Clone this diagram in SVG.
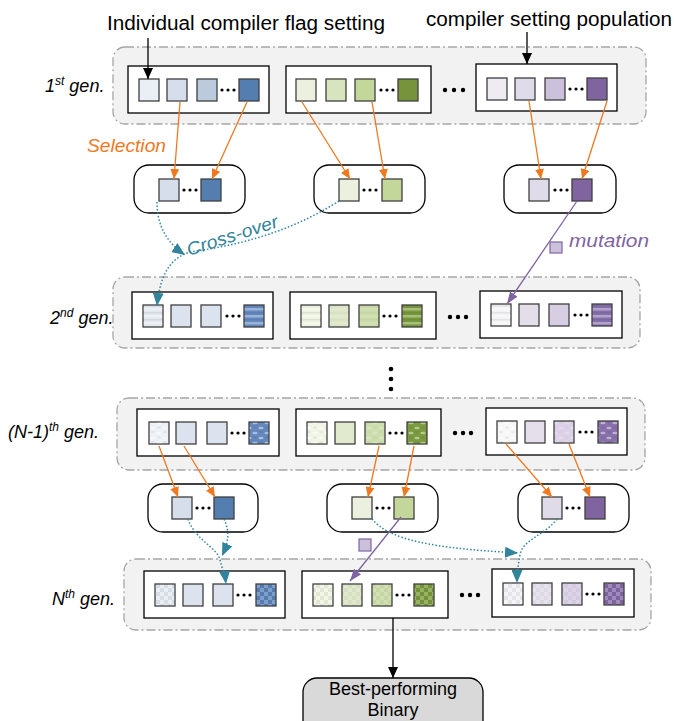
<svg xmlns="http://www.w3.org/2000/svg" width="674" height="721" viewBox="0 0 674 721">
<style>
.outer{fill:#F2F2F2;stroke:#A6A6A6;stroke-width:1.3;stroke-dasharray:9 3 2 3}
.box{fill:#fff;stroke:#000;stroke-width:1.3}
.sel{fill:#fff;stroke:#000;stroke-width:1.3}
.sq{stroke:#3F3F3F;stroke-width:1.3}
.dot{fill:#000}
.so{stroke:#F0781E;stroke-width:1.3;fill:none;marker-end:url(#ao)}
.xo{stroke:#31849B;stroke-width:1.5;stroke-dasharray:1.5 2;fill:none;marker-end:url(#at)}
.mu{stroke:#8064A2;stroke-width:1.3;fill:none;marker-end:url(#ap)}
.bk{stroke:#000;stroke-width:1.3;fill:none;marker-end:url(#ab)}
.t{font-family:"Liberation Sans",Arial,sans-serif;fill:#000}
.it{font-family:"Liberation Sans",Arial,sans-serif;font-style:italic;font-size:18px;fill:#000}
</style>
<defs>
<marker id="ao" markerWidth="10" markerHeight="9" refX="10" refY="4.5" orient="auto" markerUnits="userSpaceOnUse"><path d="M0,0 L10,4.5 L0,9 z" fill="#F0781E"/></marker>
<marker id="at" markerWidth="13" markerHeight="11" refX="13" refY="5.5" orient="auto" markerUnits="userSpaceOnUse"><path d="M0,0 L13,5.5 L0,11 z" fill="#31849B"/></marker>
<marker id="ap" markerWidth="12" markerHeight="9" refX="12" refY="4.5" orient="auto" markerUnits="userSpaceOnUse"><path d="M0,0 L12,4.5 L0,9 z" fill="#8064A2"/></marker>
<marker id="ab" markerWidth="11" markerHeight="10" refX="11" refY="5" orient="auto" markerUnits="userSpaceOnUse"><path d="M0,0 L11,5 L0,10 z" fill="#000"/></marker>
<pattern id="stripe" width="7" height="7" patternUnits="userSpaceOnUse"><rect width="7" height="2.5" fill="#fff" fill-opacity="0.35"/><rect y="4" width="7" height="1.5" fill="#000" fill-opacity="0.07"/></pattern>
<pattern id="mottle" width="12" height="10" patternUnits="userSpaceOnUse"><ellipse cx="3" cy="3" rx="2.6" ry="1.2" fill="#fff" fill-opacity="0.45"/><ellipse cx="9" cy="8" rx="2.6" ry="1.2" fill="#fff" fill-opacity="0.45"/><ellipse cx="9" cy="2" rx="2" ry="1" fill="#000" fill-opacity="0.06"/><ellipse cx="3" cy="7.5" rx="2" ry="1" fill="#000" fill-opacity="0.06"/></pattern>
<pattern id="check" width="8" height="8" patternUnits="userSpaceOnUse"><rect width="4" height="4" fill="#fff" fill-opacity="0.22"/><rect x="4" y="4" width="4" height="4" fill="#fff" fill-opacity="0.22"/><rect x="4" width="4" height="4" fill="#000" fill-opacity="0.05"/><rect y="4" width="4" height="4" fill="#000" fill-opacity="0.05"/></pattern>
</defs>

<g id="labels">
<text class="t" x="107" y="30" font-size="20" textLength="278" lengthAdjust="spacingAndGlyphs">Individual compiler flag setting</text>
<text class="t" x="426" y="26" font-size="20" textLength="246" lengthAdjust="spacingAndGlyphs">compiler setting population</text>
<text class="it" x="45" y="92">1<tspan font-size="12" dy="-7">st</tspan><tspan dy="7"> gen.</tspan></text>
<text class="it" x="50" y="324">2<tspan font-size="12" dy="-7">nd</tspan><tspan dy="7"> gen.</tspan></text>
<text class="it" x="8" y="438">(N-1)<tspan font-size="12" dy="-7">th</tspan><tspan dy="7"> gen.</tspan></text>
<text class="it" x="52" y="605">N<tspan font-size="12" dy="-7">th</tspan><tspan dy="7"> gen.</tspan></text>
<text class="it" x="87" y="152" font-size="20" style="fill:#F0781E" textLength="79" lengthAdjust="spacingAndGlyphs">Selection</text>
<text class="it" x="569" y="247" font-size="20" style="fill:#8064A2" textLength="80" lengthAdjust="spacingAndGlyphs">mutation</text>
<text class="it" x="0" y="0" font-size="20" style="fill:#31849B" textLength="95" lengthAdjust="spacingAndGlyphs" transform="translate(189,256) rotate(-18)">Cross-over</text>
</g>

<g id="gen1">
<rect class="outer" x="113" y="47" width="533" height="77" rx="12"/>
<rect class="box" x="128" y="66" width="141" height="47"/>
<rect class="sq" x="139" y="79" width="20" height="22" fill="#EAEEF5"/>
<rect class="sq" x="167" y="79" width="20" height="22" fill="#D5DEEA"/>
<rect class="sq" x="197" y="79" width="20" height="22" fill="#BCCADD"/>
<circle class="dot" cx="222" cy="90" r="1.6"/><circle class="dot" cx="228" cy="90" r="1.6"/><circle class="dot" cx="234" cy="90" r="1.6"/>
<rect class="sq" x="239" y="79" width="20" height="22" fill="#547DB0"/>
<rect class="box" x="286" y="66" width="145" height="47"/>
<rect class="sq" x="296" y="79" width="20" height="22" fill="#EBF1DE"/>
<rect class="sq" x="326" y="79" width="20" height="22" fill="#D7E4BD"/>
<rect class="sq" x="355" y="79" width="20" height="22" fill="#C4D79B"/>
<circle class="dot" cx="381" cy="90" r="1.6"/><circle class="dot" cx="387" cy="90" r="1.6"/><circle class="dot" cx="393" cy="90" r="1.6"/>
<rect class="sq" x="398" y="79" width="20" height="22" fill="#77933C"/>
<circle class="dot" cx="445" cy="90" r="2.2"/><circle class="dot" cx="454" cy="90" r="2.2"/><circle class="dot" cx="463" cy="90" r="2.2"/>
<rect class="box" x="476" y="64" width="141" height="47"/>
<rect class="sq" x="487" y="78" width="20" height="22" fill="#EEEBF3"/>
<rect class="sq" x="515" y="78" width="20" height="22" fill="#E0DBE8"/>
<rect class="sq" x="545" y="78" width="20" height="22" fill="#CCC1DA"/>
<circle class="dot" cx="570" cy="89" r="1.6"/><circle class="dot" cx="576" cy="89" r="1.6"/><circle class="dot" cx="582" cy="89" r="1.6"/>
<rect class="sq" x="587" y="78" width="20" height="22" fill="#7F64A0"/>
</g>

<g id="sel1">
<rect class="sel" x="134" y="165" width="111" height="48" rx="15"/>
<rect class="sq" x="159" y="179" width="20" height="22" fill="#D5DEEA"/>
<circle class="dot" cx="184" cy="190" r="1.6"/><circle class="dot" cx="190" cy="190" r="1.6"/><circle class="dot" cx="196" cy="190" r="1.6"/>
<rect class="sq" x="201" y="179" width="20" height="22" fill="#547DB0"/>
</g>
<g id="sel2">
<rect class="sel" x="314" y="165" width="111" height="48" rx="15"/>
<rect class="sq" x="339" y="179" width="20" height="22" fill="#EBF1DE"/>
<circle class="dot" cx="364" cy="190" r="1.6"/><circle class="dot" cx="370" cy="190" r="1.6"/><circle class="dot" cx="376" cy="190" r="1.6"/>
<rect class="sq" x="382" y="179" width="20" height="22" fill="#C4D79B"/>
</g>
<g id="sel3">
<rect class="sel" x="504" y="165" width="112" height="48" rx="15"/>
<rect class="sq" x="529" y="179" width="20" height="22" fill="#E0DBE8"/>
<circle class="dot" cx="555" cy="190" r="1.6"/><circle class="dot" cx="561" cy="190" r="1.6"/><circle class="dot" cx="567" cy="190" r="1.6"/>
<rect class="sq" x="572" y="179" width="20" height="22" fill="#7F64A0"/>
</g>

<g id="gen2">
<rect class="outer" x="113" y="277" width="527" height="71" rx="12"/>
<rect class="box" x="132" y="292" width="141" height="47"/>
<rect class="sq" x="143" y="305" width="20" height="22" fill="#E2E8EF"/><rect x="143.7" y="305.7" width="18.6" height="20.6" fill="url(#stripe)"/>
<rect class="sq" x="171" y="305" width="20" height="22" fill="#DBE3EE"/>
<rect class="sq" x="201" y="305" width="20" height="22" fill="#DBE3EE"/>
<circle class="dot" cx="227" cy="316" r="1.6"/><circle class="dot" cx="233" cy="316" r="1.6"/><circle class="dot" cx="239" cy="316" r="1.6"/>
<rect class="sq" x="244" y="305" width="20" height="22" fill="#6489BE"/><rect x="244.7" y="305.7" width="18.6" height="20.6" fill="url(#stripe)"/>
<rect class="box" x="290" y="292" width="146" height="47"/>
<rect class="sq" x="301" y="305" width="20" height="22" fill="#EEF3E0"/><rect x="301.7" y="305.7" width="18.6" height="20.6" fill="url(#stripe)"/>
<rect class="sq" x="329" y="305" width="20" height="22" fill="#DDE6C7"/><rect x="329.7" y="305.7" width="18.6" height="20.6" fill="url(#stripe)" opacity="0.4"/>
<rect class="sq" x="359" y="305" width="20" height="22" fill="#CBDBA8"/><rect x="359.7" y="305.7" width="18.6" height="20.6" fill="url(#stripe)" opacity="0.4"/>
<circle class="dot" cx="384" cy="316" r="1.6"/><circle class="dot" cx="390" cy="316" r="1.6"/><circle class="dot" cx="396" cy="316" r="1.6"/>
<rect class="sq" x="402" y="305" width="20" height="22" fill="#78983C"/><rect x="402.7" y="305.7" width="18.6" height="20.6" fill="url(#stripe)"/>
<circle class="dot" cx="450" cy="317" r="2.2"/><circle class="dot" cx="458" cy="317" r="2.2"/><circle class="dot" cx="466" cy="317" r="2.2"/>
<rect class="box" x="480" y="291" width="142" height="47"/>
<rect class="sq" x="491" y="304" width="20" height="22" fill="#F4F4F6"/><rect x="491.7" y="304.7" width="18.6" height="20.6" fill="url(#stripe)"/>
<rect class="sq" x="519" y="304" width="20" height="22" fill="#E3DEEA"/>
<rect class="sq" x="549" y="304" width="20" height="22" fill="#D8CEE3"/>
<circle class="dot" cx="575" cy="315" r="1.6"/><circle class="dot" cx="581" cy="315" r="1.6"/><circle class="dot" cx="587" cy="315" r="1.6"/>
<rect class="sq" x="592" y="304" width="20" height="22" fill="#8670AA"/><rect x="592.7" y="304.7" width="18.6" height="20.6" fill="url(#stripe)"/>
</g>

<g id="vdots">
<circle class="dot" cx="391" cy="369" r="2.3"/><circle class="dot" cx="391" cy="379" r="2.3"/><circle class="dot" cx="391" cy="389" r="2.3"/>
</g>

<g id="genN1">
<rect class="outer" x="117" y="398" width="528" height="72" rx="12"/>
<rect class="box" x="137" y="409" width="142" height="47"/>
<rect class="sq" x="149" y="422" width="20" height="22" fill="#EEF1F6"/><rect x="149.7" y="422.7" width="18.6" height="20.6" fill="url(#mottle)"/>
<rect class="sq" x="176" y="422" width="20" height="22" fill="#DCE3EE"/>
<rect class="sq" x="207" y="422" width="20" height="22" fill="#DCE3EE"/>
<circle class="dot" cx="232" cy="433" r="1.6"/><circle class="dot" cx="238" cy="433" r="1.6"/><circle class="dot" cx="244" cy="433" r="1.6"/>
<rect class="sq" x="249" y="422" width="20" height="22" fill="#6487BC"/><rect x="249.7" y="422.7" width="18.6" height="20.6" fill="url(#mottle)"/>
<rect class="box" x="296" y="409" width="145" height="47"/>
<rect class="sq" x="307" y="422" width="20" height="22" fill="#F1F5E7"/><rect x="307.7" y="422.7" width="18.6" height="20.6" fill="url(#mottle)"/>
<rect class="sq" x="335" y="422" width="20" height="22" fill="#E1E9CF"/>
<rect class="sq" x="365" y="422" width="20" height="22" fill="#CEDDAE"/><rect x="365.7" y="422.7" width="18.6" height="20.6" fill="url(#mottle)" opacity="0.5"/>
<circle class="dot" cx="390" cy="433" r="1.6"/><circle class="dot" cx="396" cy="433" r="1.6"/><circle class="dot" cx="402" cy="433" r="1.6"/>
<rect class="sq" x="407" y="422" width="20" height="22" fill="#7A9B3E"/><rect x="407.7" y="422.7" width="18.6" height="20.6" fill="url(#mottle)"/>
<circle class="dot" cx="455" cy="433" r="2.2"/><circle class="dot" cx="463" cy="433" r="2.2"/><circle class="dot" cx="471" cy="433" r="2.2"/>
<rect class="box" x="486" y="408" width="141" height="47"/>
<rect class="sq" x="497" y="421" width="20" height="22" fill="#F7F7F7"/><rect x="497.7" y="421.7" width="18.6" height="20.6" fill="url(#mottle)"/>
<rect class="sq" x="525" y="421" width="20" height="22" fill="#E4DFEB"/>
<rect class="sq" x="554" y="421" width="20" height="22" fill="#DCD1E6"/><rect x="554.7" y="421.7" width="18.6" height="20.6" fill="url(#mottle)" opacity="0.5"/>
<circle class="dot" cx="580" cy="432" r="1.6"/><circle class="dot" cx="586" cy="432" r="1.6"/><circle class="dot" cx="592" cy="432" r="1.6"/>
<rect class="sq" x="598" y="421" width="20" height="22" fill="#8870AA"/><rect x="598.7" y="421.7" width="18.6" height="20.6" fill="url(#mottle)"/>
</g>

<g id="sel4">
<rect class="sel" x="148" y="484" width="110" height="48" rx="15"/>
<rect class="sq" x="172" y="497" width="20" height="22" fill="#D5DEEA"/>
<circle class="dot" cx="197" cy="508" r="1.6"/><circle class="dot" cx="203" cy="508" r="1.6"/><circle class="dot" cx="209" cy="508" r="1.6"/>
<rect class="sq" x="214" y="497" width="20" height="22" fill="#547DB0"/>
</g>
<g id="sel5">
<rect class="sel" x="327" y="484" width="111" height="48" rx="15"/>
<rect class="sq" x="352" y="497" width="20" height="22" fill="#EBF1DE"/>
<circle class="dot" cx="377" cy="508" r="1.6"/><circle class="dot" cx="383" cy="508" r="1.6"/><circle class="dot" cx="389" cy="508" r="1.6"/>
<rect class="sq" x="394" y="497" width="20" height="22" fill="#C4D79B"/>
</g>
<g id="sel6">
<rect class="sel" x="518" y="484" width="111" height="48" rx="15"/>
<rect class="sq" x="542" y="497" width="20" height="22" fill="#E0DBE8"/>
<circle class="dot" cx="567" cy="508" r="1.6"/><circle class="dot" cx="573" cy="508" r="1.6"/><circle class="dot" cx="579" cy="508" r="1.6"/>
<rect class="sq" x="585" y="497" width="20" height="22" fill="#7F64A0"/>
</g>

<g id="genN">
<rect class="outer" x="124" y="559" width="527" height="71" rx="12"/>
<rect class="box" x="144" y="571" width="141" height="47"/>
<rect class="sq" x="155" y="584" width="20" height="22" fill="#E3E9F0"/><rect x="155.7" y="584.7" width="18.6" height="20.6" fill="url(#check)"/>
<rect class="sq" x="183" y="584" width="20" height="22" fill="#DCE3EE"/>
<rect class="sq" x="213" y="584" width="20" height="22" fill="#DCE3EE"/>
<circle class="dot" cx="238" cy="595" r="1.6"/><circle class="dot" cx="244" cy="595" r="1.6"/><circle class="dot" cx="250" cy="595" r="1.6"/>
<rect class="sq" x="256" y="584" width="20" height="22" fill="#5A82B8"/><rect x="256.7" y="584.7" width="18.6" height="20.6" fill="url(#check)"/>
<rect class="box" x="302" y="571" width="146" height="47"/>
<rect class="sq" x="313" y="584" width="20" height="22" fill="#EEF3E0"/><rect x="313.7" y="584.7" width="18.6" height="20.6" fill="url(#check)"/>
<rect class="sq" x="342" y="584" width="20" height="22" fill="#DDE6C7"/><rect x="342.7" y="584.7" width="18.6" height="20.6" fill="url(#check)" opacity="0.5"/>
<rect class="sq" x="372" y="584" width="20" height="22" fill="#CBDBA8"/><rect x="372.7" y="584.7" width="18.6" height="20.6" fill="url(#check)" opacity="0.5"/>
<circle class="dot" cx="397" cy="595" r="1.6"/><circle class="dot" cx="403" cy="595" r="1.6"/><circle class="dot" cx="409" cy="595" r="1.6"/>
<rect class="sq" x="414" y="584" width="20" height="22" fill="#7A9B3C"/><rect x="414.7" y="584.7" width="18.6" height="20.6" fill="url(#check)"/>
<circle class="dot" cx="462" cy="595" r="2.2"/><circle class="dot" cx="470" cy="595" r="2.2"/><circle class="dot" cx="478" cy="595" r="2.2"/>
<rect class="box" x="492" y="569" width="142" height="48"/>
<rect class="sq" x="503" y="583" width="20" height="22" fill="#F2F1F6"/><rect x="503.7" y="583.7" width="18.6" height="20.6" fill="url(#check)"/>
<rect class="sq" x="532" y="583" width="20" height="22" fill="#E4DFEB"/><rect x="532.7" y="583.7" width="18.6" height="20.6" fill="url(#check)" opacity="0.5"/>
<rect class="sq" x="562" y="583" width="20" height="22" fill="#DACFE5"/><rect x="562.7" y="583.7" width="18.6" height="20.6" fill="url(#check)" opacity="0.5"/>
<circle class="dot" cx="587" cy="594" r="1.6"/><circle class="dot" cx="593" cy="594" r="1.6"/><circle class="dot" cx="599" cy="594" r="1.6"/>
<rect class="sq" x="604" y="583" width="20" height="22" fill="#8569A8"/><rect x="604.7" y="583.7" width="18.6" height="20.6" fill="url(#check)"/>
</g>

<g id="best">
<rect x="303" y="678" width="180" height="60" rx="14" fill="#D9D9D9" stroke="#000" stroke-width="1.3"/>
<text class="t" x="393" y="695" font-size="18" text-anchor="middle">Best-performing</text>
<text class="t" x="393" y="716" font-size="18" text-anchor="middle">Binary</text>
</g>

<g id="connectors">
<path class="bk" d="M148,38 L148,79"/>
<path class="bk" d="M527,32 L527,64"/>
<path class="bk" d="M393,618 L393,678"/>
<path class="so" d="M180,102 L174,179"/>
<path class="so" d="M247,102 L212,179"/>
<path class="so" d="M302,102 L350,179"/>
<path class="so" d="M372,102 L385,179"/>
<path class="so" d="M529,101 L541,179"/>
<path class="so" d="M607,101 L582,179"/>
<path class="so" d="M159,446 L178,497"/>
<path class="so" d="M184,446 L215,497"/>
<path class="so" d="M379,446 L368,497"/>
<path class="so" d="M414,446 L404,497"/>
<path class="so" d="M506,444 L552,497"/>
<path class="so" d="M569,444 L590,497"/>
<path class="xo" d="M157,202 C157,225 166,242 185,255"/>
<path class="xo" d="M339,201 C290,232 240,245 190,252 C170,258 160,275 157,306"/>
<path class="xo" d="M188,519 C195,540 218,548 220,560 C222,568 225,575 226,584"/>
<path class="xo" d="M224,519 C231,534 227,545 222,556"/>
<path class="xo" d="M372,519 C390,540 430,548 518,553"/>
<path class="xo" d="M557,519 C545,535 522,540 520,555 C518,565 517,575 517,583"/>
<path class="mu" d="M577,201 L507,304"/>
<rect x="550" y="242" width="12" height="11" fill="#CCC1DA" stroke="#8064A2" stroke-width="1.2"/>
<path class="mu" d="M401,517 L350,581"/>
<rect x="359" y="539" width="12" height="12" fill="#CCC1DA" stroke="#8064A2" stroke-width="1.2"/>
</g>
</svg>
